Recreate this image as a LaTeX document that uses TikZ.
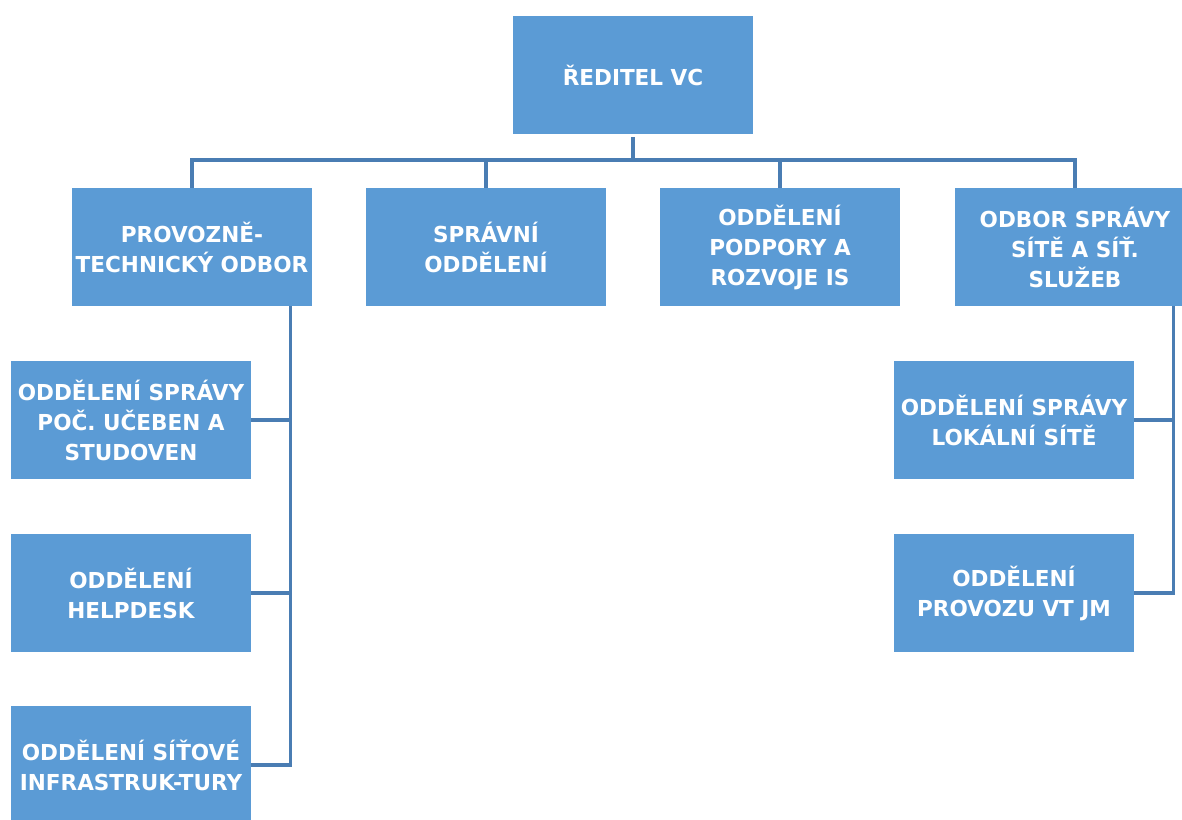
\documentclass[tikz,border=0pt]{standalone}
\usepackage{fontspec}
\setmainfont[FakeStretch=0.98]{DejaVu Sans}
\definecolor{boxblue}{HTML}{5B9BD5}
\definecolor{lineblue}{HTML}{4A7DB3}
\begin{document}
\begin{tikzpicture}[x=1pt,y=-1pt,
  orgbox/.style={fill=boxblue, text=white, minimum width=240, minimum height=118,
    inner sep=0pt, align=center, font=\bfseries\fontsize{22}{30}\selectfont},
  conn/.style={draw=lineblue, line width=3.2pt}]
\useasboundingbox (0,0) rectangle (1182,819);
\clip (0,0) rectangle (1182,819);
\fill[white] (0,0) rectangle (1182,819);
\node[orgbox] (top) at (633,75) {ŘEDITEL VC};
\node[orgbox] (b1) at (192,247) {PROVOZNĚ-\\TECHNICKÝ ODBOR};
\node[orgbox] (b2) at (486,247) {SPRÁVNÍ\\ODDĚLENÍ};
\node[orgbox] (b3) at (780,247) {ODDĚLENÍ\\PODPORY A\\ROZVOJE IS};
\node[orgbox] (b4) at (1075,247) {ODBOR SPRÁVY\\SÍTĚ A SÍŤ.\\SLUŽEB};
\node[orgbox] (l1) at (131,420) {ODDĚLENÍ SPRÁVY\\POČ. UČEBEN A\\STUDOVEN};
\node[orgbox] (l2) at (131,593) {ODDĚLENÍ\\HELPDESK};
\node[orgbox] (l3) at (131,765) {ODDĚLENÍ SÍŤOVÉ\\INFRASTRUK-TURY};
\node[orgbox] (r1) at (1014,420) {ODDĚLENÍ SPRÁVY\\LOKÁLNÍ SÍTĚ};
\node[orgbox] (r2) at (1014,593) {ODDĚLENÍ\\PROVOZU VT JM};
\coordinate (bus) at (633,160);
\coordinate (lt) at ([xshift=-22pt]b1.south east);
\coordinate (rt) at ([xshift=-22pt]b4.south east);
\draw[conn] ([yshift=-3pt]top.south) -- (bus);
\draw[conn] (b1.north) |- (bus) -| (b4.north);
\draw[conn] (b2.north) -- (b2.north |- bus);
\draw[conn] (b3.north) -- (b3.north |- bus);
\draw[conn] (lt) |- (l3.east);
\draw[conn] (l1.east) -- (l1.east -| lt);
\draw[conn] (l2.east) -- (l2.east -| lt);
\draw[conn] (rt) |- (r2.east);
\draw[conn] (r1.east) -- (r1.east -| rt);
\end{tikzpicture}
\end{document}
